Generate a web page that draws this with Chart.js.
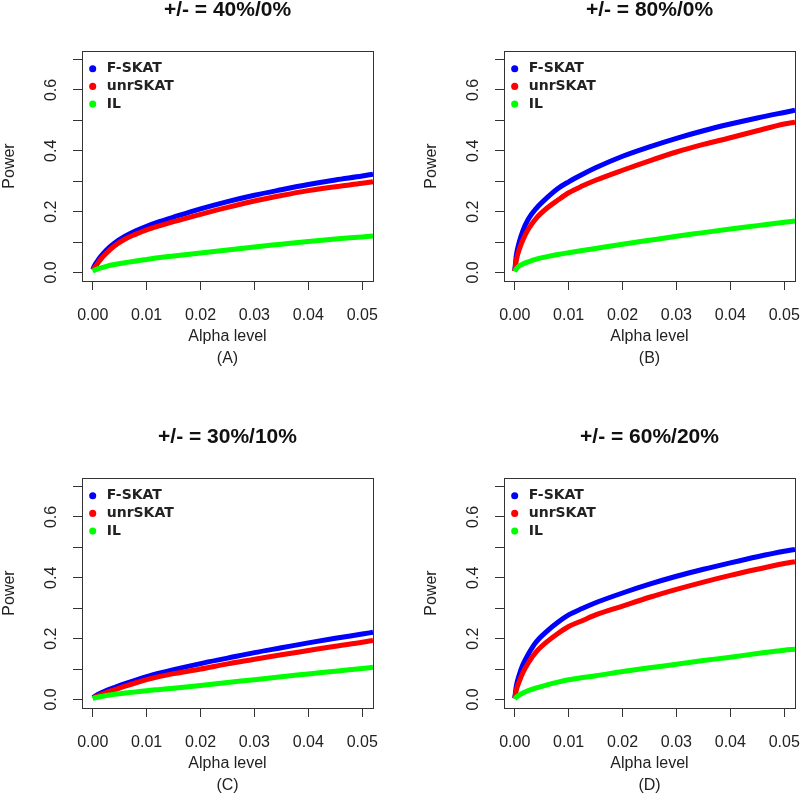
<!DOCTYPE html>
<html>
<head>
<meta charset="utf-8">
<script src="https://cdn.jsdelivr.net/npm/chart.js@4.4.1/dist/chart.umd.min.js"></script>
<style>
  html, body { margin: 0; padding: 0; background: #fff; overflow: hidden; }
  #page { position: relative; width: 800px; height: 796px; overflow: hidden; }
  canvas { position: absolute; }
</style>
</head>
<body>
<div id="page">
  <canvas id="panelA" width="397" height="369" style="left:0px;top:0px"></canvas>
  <canvas id="panelB" width="397" height="369" style="left:422px;top:0px"></canvas>
  <canvas id="panelC" width="397" height="369" style="left:0px;top:427px"></canvas>
  <canvas id="panelD" width="397" height="369" style="left:422px;top:427px"></canvas>
</div>
<script>
const alphaLevels = [0, 0.0003, 0.0008, 0.0015, 0.0025, 0.004, 0.006, 0.008, 0.01, 0.0125,
  0.015, 0.02, 0.025, 0.03, 0.035, 0.04, 0.045, 0.05, 0.052];

const xTicks = [0, 0.01, 0.02, 0.03, 0.04, 0.05];
const xTickLabels = ['0.00', '0.01', '0.02', '0.03', '0.04', '0.05'];
const yTicks = [0, 0.1, 0.2, 0.3, 0.4, 0.5, 0.6, 0.7];
const yTickLabels = ['0.0', '', '0.2', '', '0.4', '', '0.6', ''];

const seriesNames = ['F-SKAT', 'unrSKAT', 'IL'];
const panelTitles = ['+/- = 40%/0%', '+/- = 80%/0%', '+/- = 30%/10%', '+/- = 60%/20%'];
const panelLabels = ['(A)', '(B)', '(C)', '(D)'];

// panel A
const fskatA = [0.009, 0.022, 0.036, 0.053, 0.073, 0.096, 0.119, 0.137, 0.152, 0.168,
  0.182, 0.209, 0.233, 0.254, 0.272, 0.289, 0.304, 0.317, 0.323];
const unrA = [0.008, 0.015, 0.027, 0.044, 0.063, 0.087, 0.11, 0.126, 0.14, 0.154,
  0.167, 0.191, 0.214, 0.235, 0.253, 0.269, 0.282, 0.293, 0.298];
const ilA = [0.004, 0.007, 0.011, 0.015, 0.02, 0.026, 0.032, 0.038, 0.043, 0.049,
  0.054, 0.064, 0.074, 0.084, 0.093, 0.102, 0.11, 0.117, 0.12];
// panel B
const fskatB = [0.005, 0.058, 0.098, 0.137, 0.175, 0.211, 0.246, 0.276, 0.298, 0.322,
  0.344, 0.382, 0.413, 0.441, 0.466, 0.488, 0.508, 0.526, 0.533];
const unrB = [0.004, 0.042, 0.074, 0.107, 0.142, 0.179, 0.212, 0.238, 0.262, 0.284,
  0.303, 0.336, 0.367, 0.396, 0.421, 0.443, 0.466, 0.488, 0.494];
const ilB = [0.003, 0.012, 0.021, 0.028, 0.035, 0.044, 0.052, 0.059, 0.065, 0.072,
  0.079, 0.093, 0.106, 0.119, 0.131, 0.143, 0.154, 0.165, 0.169];
// panel C
const fskatC = [0.006, 0.009, 0.015, 0.021, 0.029, 0.039, 0.052, 0.064, 0.075, 0.087,
  0.098, 0.118, 0.136, 0.154, 0.17, 0.186, 0.201, 0.215, 0.221];
const unrC = [0.005, 0.007, 0.011, 0.016, 0.023, 0.032, 0.044, 0.055, 0.065, 0.076,
  0.085, 0.1, 0.117, 0.132, 0.147, 0.161, 0.175, 0.188, 0.194];
const ilC = [0.003, 0.005, 0.007, 0.01, 0.013, 0.017, 0.021, 0.025, 0.029, 0.033,
  0.037, 0.046, 0.056, 0.065, 0.075, 0.084, 0.093, 0.102, 0.106];
// panel D
const fskatD = [0.004, 0.045, 0.079, 0.114, 0.149, 0.19, 0.225, 0.254, 0.278, 0.299,
  0.318, 0.35, 0.379, 0.405, 0.428, 0.449, 0.469, 0.487, 0.493];
const unrD = [0.003, 0.032, 0.058, 0.088, 0.12, 0.157, 0.19, 0.217, 0.24, 0.259,
  0.278, 0.307, 0.336, 0.362, 0.386, 0.408, 0.428, 0.447, 0.453];
const ilD = [0.002, 0.008, 0.014, 0.021, 0.029, 0.038, 0.048, 0.057, 0.065, 0.072,
  0.078, 0.092, 0.104, 0.116, 0.128, 0.139, 0.151, 0.162, 0.165];

const seriesColors = ['#0000ff', '#ff0000', '#00ff00'];
const textFont = '"Liberation Sans", Arial, sans-serif';

// R-style box round the plot region
const plotBox = {
  id: 'plotBox',
  afterDraw(chart) {
    const { ctx, chartArea: a } = chart;
    ctx.save();
    ctx.strokeStyle = '#333';
    ctx.lineWidth = 1;
    ctx.strokeRect(Math.round(a.left) + 0.5, Math.round(a.top) + 0.5,
      Math.round(a.right - a.left), Math.round(a.bottom - a.top));
    ctx.restore();
  }
};

const toPoints = ys => alphaLevels.map((a, i) => ({ x: a, y: ys[i] }));

function makePanel(id, title, label, series) {
  const datasets = series.map((ys, i) => ({
    label: seriesNames[i],
    data: toPoints(ys),
    borderColor: seriesColors[i],
    backgroundColor: seriesColors[i],
    borderWidth: 5,
    pointRadius: 0,
    cubicInterpolationMode: 'monotone',
    clip: 0,
    order: 3 - i,
    xAxisID: 'x',
    yAxisID: 'y'
  }));

  return new Chart(document.getElementById(id), {
    type: 'line',
    data: { datasets },
    plugins: [plotBox],
    options: {
      responsive: false,
      animation: false,
      events: [],
      layout: { padding: { left: 0, right: 24, top: 0, bottom: 0 } },
      plugins: {
        tooltip: { enabled: false },
        legend: {
          position: 'chartArea',
          align: 'start',
          // a vertical legend in the chart area starts at the canvas top, so the
          // empty title pushes the entries down inside the box
          title: { display: true, text: '', font: { size: 7, lineHeight: 1 }, padding: { top: 51, bottom: 0 } },
          labels: {
            usePointStyle: true,
            boxWidth: 14,
            boxHeight: 5,
            padding: 3.7,
            color: '#222',
            font: { family: '"DejaVu Sans", sans-serif', weight: 'bold', size: 14 },
            sort: (a, b) => a.datasetIndex - b.datasetIndex,
            generateLabels: chart => Chart.defaults.plugins.legend.labels.generateLabels(chart)
              .map(item => Object.assign(item, { lineWidth: 0 }))
          }
        }
      },
      scales: {
        x: {
          type: 'linear',
          position: 'bottom',
          min: -0.002,
          max: 0.052,
          afterBuildTicks: s => { s.ticks = xTicks.map(v => ({ value: v })); },
          afterFit: s => { s.height = 88; },
          grid: { drawOnChartArea: false, drawTicks: true, tickLength: 9, color: '#333' },
          border: { display: false },
          ticks: {
            padding: 16, color: '#222', autoSkip: false, maxRotation: 0,
            font: { family: textFont, size: 16 },
            callback: (v, i) => xTickLabels[i]
          },
          title: {
            display: true, text: ['Alpha level', label], color: '#222',
            font: { family: textFont, size: 16, lineHeight: 1.35 },
            padding: { top: 0, bottom: 0 }
          }
        },
        top: {
          type: 'linear',
          position: 'top',
          afterFit: s => { s.height = 51; },
          grid: { display: false },
          border: { display: false },
          ticks: { display: false },
          title: {
            display: true, text: title, color: '#111',
            font: { family: textFont, weight: 'bold', size: 21, lineHeight: 1 },
            padding: 0
          }
        },
        y: {
          type: 'linear',
          position: 'left',
          min: -0.028,
          max: 0.728,
          afterBuildTicks: s => { s.ticks = yTicks.map(v => ({ value: v })); },
          afterFit: s => { s.width = 82; },
          grid: { drawOnChartArea: false, drawTicks: true, tickLength: 9, color: '#333' },
          border: { display: false },
          ticks: {
            padding: 10, color: '#222', autoSkip: false,
            minRotation: 90, maxRotation: 90, crossAlign: 'center',
            font: { family: textFont, size: 16 },
            callback: (v, i) => yTickLabels[i]
          },
          title: {
            display: true, text: 'Power', color: '#222',
            font: { family: textFont, size: 16 },
            padding: { top: 0, bottom: 0 }
          }
        }
      }
    }
  });
}

makePanel('panelA', panelTitles[0], panelLabels[0], [fskatA, unrA, ilA]);
makePanel('panelB', panelTitles[1], panelLabels[1], [fskatB, unrB, ilB]);
makePanel('panelC', panelTitles[2], panelLabels[2], [fskatC, unrC, ilC]);
makePanel('panelD', panelTitles[3], panelLabels[3], [fskatD, unrD, ilD]);
</script>
</body>
</html>
